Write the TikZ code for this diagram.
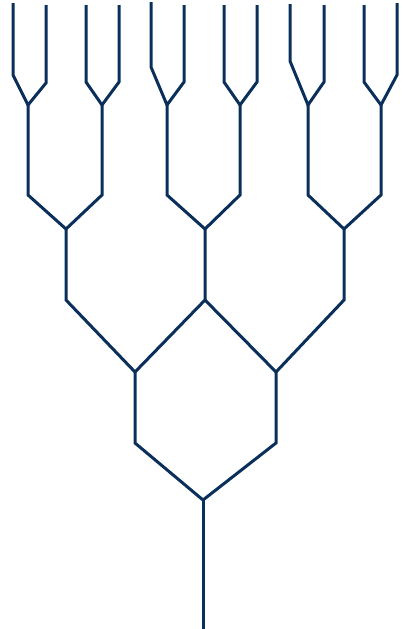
\documentclass[tikz,border=0pt]{standalone}
\usepackage{tikz}
\definecolor{treenavy}{HTML}{0A2F5A}

\begin{document}
\begin{tikzpicture}[
  x=1pt,y=-1pt,
  branch/.style={draw=treenavy,line width=3pt,line join=miter,line cap=butt}
]
\useasboundingbox (0,0) rectangle (403,629);
% trunk and lower forks
\coordinate (foot) at (203,629);
\coordinate (root) at (203,500);
\coordinate (lk) at (135,443);
\coordinate (lf) at (135,372);
\coordinate (rk) at (276,443);
\coordinate (rf) at (276,372);
\coordinate (lo) at (66,300);
\coordinate (mid) at (205,300);
\coordinate (ro) at (344,300);
\coordinate (fa) at (66,229);
\coordinate (fb) at (205,229);
\coordinate (fc) at (344,229);
% upper stems
\coordinate (s1k) at (28,195);  \coordinate (s1) at (28,105);
\coordinate (s2k) at (102,195); \coordinate (s2) at (102,105);
\coordinate (s3k) at (167,195); \coordinate (s3) at (167,105);
\coordinate (s4k) at (240,195); \coordinate (s4) at (240,105);
\coordinate (s5k) at (308,195); \coordinate (s5) at (308,105);
\coordinate (s6k) at (381,195); \coordinate (s6) at (381,105);
% twig knees and tips
\coordinate (t1ak) at (13,75);  \coordinate (t1a) at (13,3);
\coordinate (t1bk) at (46,83);  \coordinate (t1b) at (46,5);
\coordinate (t2ak) at (86,82);  \coordinate (t2a) at (86,5);
\coordinate (t2bk) at (119,82); \coordinate (t2b) at (119,5);
\coordinate (t3ak) at (151,67); \coordinate (t3a) at (151,2);
\coordinate (t3bk) at (184,82); \coordinate (t3b) at (184,5);
\coordinate (t4ak) at (224,82); \coordinate (t4a) at (224,5);
\coordinate (t4bk) at (257,82); \coordinate (t4b) at (257,5);
\coordinate (t5ak) at (290,61); \coordinate (t5a) at (290,4);
\coordinate (t5bk) at (324,82); \coordinate (t5b) at (324,5);
\coordinate (t6ak) at (364,82); \coordinate (t6a) at (364,5);
\coordinate (t6bk) at (397,75); \coordinate (t6b) at (397,3);

\draw[branch] (foot) -- (root);
\draw[branch] (lf) -- (lk) -- (root) -- (rk) -- (rf);
\draw[branch] (fa) -- (lo) -- (lf) -- (mid) -- (fb);
\draw[branch] (mid) -- (rf) -- (ro) -- (fc);
\draw[branch] (s1) -- (s1k) -- (fa) -- (s2k) -- (s2);
\draw[branch] (s3) -- (s3k) -- (fb) -- (s4k) -- (s4);
\draw[branch] (s5) -- (s5k) -- (fc) -- (s6k) -- (s6);
\draw[branch] (t1a) -- (t1ak) -- (s1) -- (t1bk) -- (t1b);
\draw[branch] (t2a) -- (t2ak) -- (s2) -- (t2bk) -- (t2b);
\draw[branch] (t3a) -- (t3ak) -- (s3) -- (t3bk) -- (t3b);
\draw[branch] (t4a) -- (t4ak) -- (s4) -- (t4bk) -- (t4b);
\draw[branch] (t5a) -- (t5ak) -- (s5) -- (t5bk) -- (t5b);
\draw[branch] (t6a) -- (t6ak) -- (s6) -- (t6bk) -- (t6b);
\end{tikzpicture}
\end{document}
